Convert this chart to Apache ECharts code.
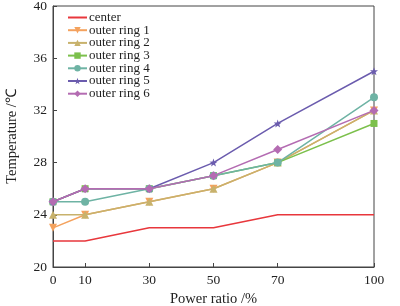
<!DOCTYPE html>
<html>
<head>
<meta charset="utf-8">
<script src="https://cdn.jsdelivr.net/npm/echarts@6/dist/echarts.min.js"></script>
<style>
    html, body { margin: 0; padding: 0; background: #fff; }
    #chart { width: 400px; height: 306px; }
</style>
</head>
<body>
<div id="chart"></div>
<script>
    // power ratio (%) on x
    const powerRatio = [0, 10, 30, 50, 70, 100];
    const xTicks = [0, 10, 30, 50, 70, 100];

    // temperatures (℃)
    const center = [22, 22, 23, 23, 24, 24];
    const ring1 = [23, 24, 25, 26, 28, 32];
    const ring2 = [24, 24, 25, 26, 28, 32];
    const ring3 = [25, 26, 26, 27, 28, 31];
    const ring4 = [25, 25, 26, 27, 28, 33];
    const ring5 = [25, 26, 26, 28, 31, 35];
    const ring6 = [25, 26, 26, 27, 29, 32];

    const names = ['center', 'outer ring 1', 'outer ring 2', 'outer ring 3', 'outer ring 4', 'outer ring 5', 'outer ring 6'];
    const values = [center, ring1, ring2, ring3, ring4, ring5, ring6];
    const colors = ['#e8373c', '#f4a25e', '#c8b26c', '#7cc04c', '#6eb3a4', '#6b5cae', '#b46cb2'];
    const symbols = ['none', 'triangle', 'triangle', 'rect', 'circle', 'path://M0,-10L2.4,-3.2L9.5,-3.1L3.8,1.2L5.9,8.1L0,4L-5.9,8.1L-3.8,1.2L-9.5,-3.1L-2.4,-3.2Z', 'diamond'];
    const rotations = [0, 180, 0, 0, 0, 0, 0];
    const sizes = [0, 8, 8, 7, 8, 8, 9];

    const font = 'Liberation Serif';

    const series = names.map(function (n, i) {
        return {
            name: n,
            type: 'line',
            data: powerRatio.map(function (x, j) { return [x, values[i][j]]; }),
            symbol: symbols[i],
            symbolSize: sizes[i],
            symbolRotate: rotations[i],
            showSymbol: i > 0,
            lineStyle: { color: colors[i], width: 1.5 },
            itemStyle: { color: colors[i] },
            z: 2 + i
        };
    });

    // legend entries, the center one is a bare line
    const legendData = names.map(function (n, i) {
        return i === 0 ? { name: n, itemStyle: { opacity: 0 } } : { name: n };
    });

    const chart = echarts.init(document.getElementById('chart'));
    chart.setOption({
        animation: false,
        textStyle: { fontFamily: font },
        grid: {
            left: 53, right: 26, top: 6, bottom: 39,
            outerBoundsMode: 'none',
            show: true, borderColor: '#444', borderWidth: 1
        },
        legend: {
            orient: 'vertical',
            left: 62, top: 6,
            itemWidth: 19, itemHeight: 8, itemGap: -0.3,
            textStyle: { fontFamily: font, fontSize: 13, color: '#222', lineHeight: 12, padding: [0, 0, 0, -3] },
            data: legendData
        },
        xAxis: {
            type: 'value',
            min: 0, max: 100,
            name: 'Power ratio /%',
            nameLocation: 'middle',
            nameGap: 20,
            nameTextStyle: { fontFamily: font, fontSize: 14.5, color: '#222' },
            axisLine: { lineStyle: { color: '#444' } },
            axisTick: { inside: true, length: 4, customValues: xTicks, lineStyle: { color: '#444' } },
            axisLabel: { customValues: xTicks, fontFamily: font, fontSize: 13.5, color: '#222', margin: 6 },
            splitLine: { show: false }
        },
        yAxis: {
            type: 'value',
            min: 20, max: 40, interval: 4,
            name: 'Temperature /℃',
            nameLocation: 'middle',
            nameGap: 33,
            nameTextStyle: { fontFamily: font, fontSize: 14.5, color: '#222' },
            axisLine: { show: true, lineStyle: { color: '#444' } },
            axisTick: { show: true, inside: true, length: 4, lineStyle: { color: '#444' } },
            axisLabel: { fontFamily: font, fontSize: 13.5, color: '#222', margin: 6 },
            splitLine: { show: false }
        },
        series: series
    });
</script>
</body>
</html>
